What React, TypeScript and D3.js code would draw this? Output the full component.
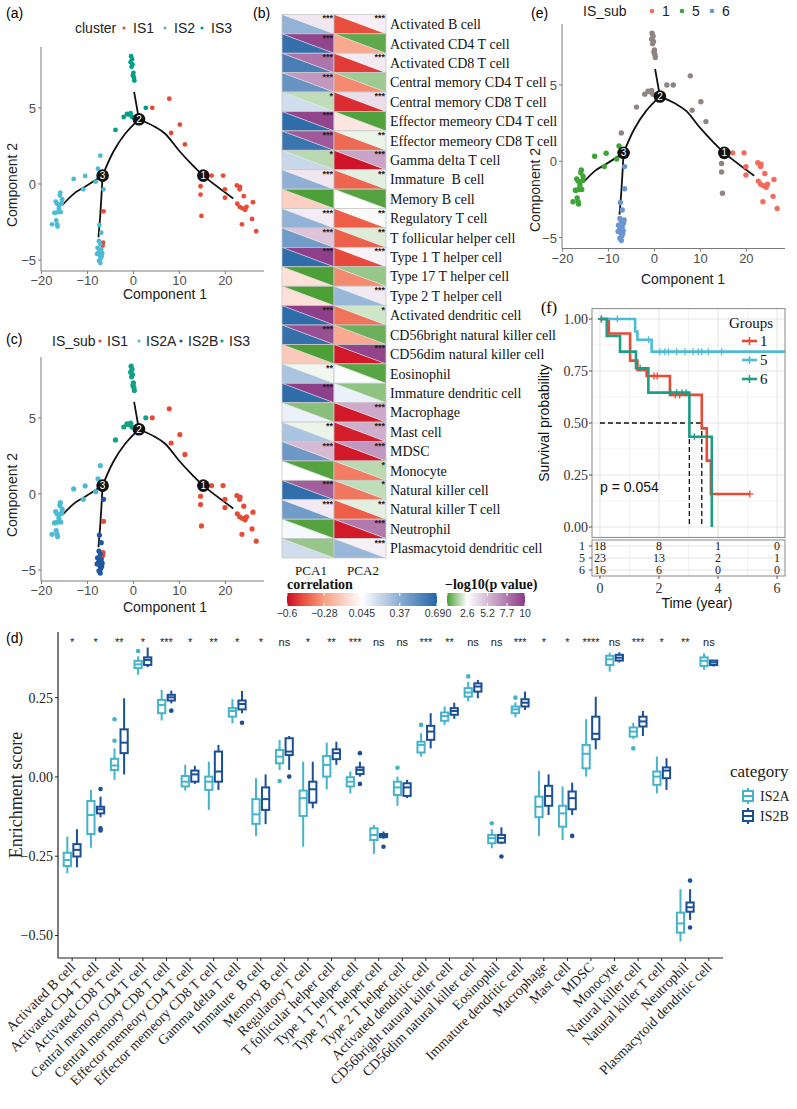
import React from "react";
import * as d3 from "d3";

const SANS = "'Liberation Sans', Arial, sans-serif";
const SERIF = "'Liberation Serif', 'Times New Roman', serif";

// ---------- trajectory (a), (c), (e) ----------
// [Component 1, Component 2]
const branchTop = [[-0.5, 8.4], [-0.3, 8.2], [-0.6, 8.0], [-0.2, 7.85], [-0.4, 7.7], [0.0, 7.3], [-0.1, 7.15], [0.1, 7.0], [0.2, 6.8]];
const nearNode2 = [[-2.1, 4.4], [-1.4, 4.6], [-0.6, 4.65], [-0.3, 4.4], [-1.0, 4.55], [2.7, 5.0], [-3.9, 3.55]];
const is1Centre = [[4.1, 5.0], [7.8, 5.6], [10.1, 3.9], [8.2, 3.35], [11.2, 2.6]];
const is1NearNode1 = [[14.8, 0.55], [14.6, -0.15], [14.6, -0.7], [14.8, -2.1]];
const is1Right = [[17.0, 0.55], [19.5, 0.55], [19.9, -0.35], [19.9, -0.9], [22.5, -0.1], [23.2, -0.2], [23.1, -0.35], [24.0, -0.8], [26.0, -1.2], [22.6, -1.3], [23.1, -1.5], [23.7, -1.6], [24.3, -1.7], [24.6, -1.5], [25.8, -2.3], [23.6, -2.65], [26.7, -3.1]];
const is1Bottom = [[-6.5, -1.8], [-6.6, -3.85], [-6.7, -4.05]];
const is2Left = [[-15.9, -0.57], [-16.0, -0.75], [-16.9, -1.16], [-16.6, -1.3], [-15.5, -1.0], [-15.6, -1.25], [-16.2, -1.6], [-17.0, -1.9], [-16.4, -1.85], [-15.8, -1.85], [-16.8, -2.4], [-16.6, -2.65], [-16.5, -2.8], [-17.7, -2.65], [-16.2, -1.4], [-17.2, -1.9]];
const is2Mid = [[-13.0, 0.33], [-10.5, 0.53], [-10.9, -0.35], [-8.2, 0.15], [-7.7, 1.0]];
const is2Upper = [[-7.2, 1.86]];
const is2Bottom = [[-6.5, -0.35], [-7.4, -2.7], [-7.0, -3.2], [-7.5, -3.75], [-7.2, -3.95], [-7.8, -4.2], [-7.0, -4.3], [-7.6, -4.5], [-6.8, -4.55], [-7.3, -4.7], [-7.9, -4.6], [-7.1, -4.9], [-7.5, -5.05], [-7.2, -5.2], [-6.9, -4.75]];

const pointSets = [
  { pts: branchTop, cluster: "IS3", sub: "IS3", grp: "other" },
  { pts: nearNode2, cluster: "IS3", sub: "IS3", grp: "other" },
  { pts: is1Centre, cluster: "IS1", sub: "IS1", grp: "other" },
  { pts: is1NearNode1, cluster: "IS1", sub: "IS1", grp: "other" },
  { pts: is1Right, cluster: "IS1", sub: "IS1", grp: "1" },
  { pts: is1Bottom, cluster: "IS1", sub: "IS1", grp: "6" },
  { pts: is2Left, cluster: "IS2", sub: "IS2A", grp: "5" },
  { pts: is2Mid, cluster: "IS2", sub: "IS2A", grp: "5" },
  { pts: is2Upper, cluster: "IS2", sub: "IS2A", grp: "other" },
  { pts: is2Bottom, cluster: "IS2", sub: "IS2B", grp: "6" },
];

const treeBranches = [
  [[1.2, 4.25], [0.15, 6.05]],
  [[1.2, 4.25], [4.7, 3.75], [6.9, 3.3], [9.9, 2.2], [12.8, 1.25], [15.2, 0.55], [21.7, -0.95]],
  [[1.2, 4.25], [-1.8, 3.3], [-4.4, 2.1], [-6.7, 0.55]],
  [[-6.7, 0.55], [-10.6, -0.2], [-12.8, -0.6], [-15.5, -1.4]],
  [[-6.7, 0.55], [-7.2, -2.0], [-7.6, -3.5]],
];
const treeNodes = [
  { id: "1", x: 15.2, y: 0.55 },
  { id: "2", x: 1.2, y: 4.25 },
  { id: "3", x: -6.7, y: 0.55 },
];

const clusterKeys = ["IS1", "IS2", "IS3"];
const subKeys = ["IS1", "IS2A", "IS2B", "IS3"];
const groupKeys = ["1", "5", "6"];
const clusterColor: Record<string, string> = { IS1: "#E64B35", IS2: "#4DBBD5", IS3: "#00A087" };
const subColor: Record<string, string> = { IS1: "#E64B35", IS2A: "#4DBBD5", IS2B: "#1F56A0", IS3: "#13A085" };
const groupColor: Record<string, string> = { "1": "#F26B5C", "5": "#3DA535", "6": "#6B96D0", other: "#8E8481" };

// ---------- heatmap (b) ----------
const cellTypes = ["Activated B cell", "Activated CD4 T cell", "Activated CD8 T cell", "Central memory CD4 T cell", "Central memory CD8 T cell", "Effector memeory CD4 T cell", "Effector memeory CD8 T cell", "Gamma delta T cell", "Immature  B cell", "Memory B cell", "Regulatory T cell", "T follicular helper cell", "Type 1 T helper cell", "Type 17 T helper cell", "Type 2 T helper cell", "Activated dendritic cell", "CD56bright natural killer cell", "CD56dim natural killer cell", "Eosinophil", "Immature dendritic cell", "Macrophage", "Mast cell", "MDSC", "Monocyte", "Natural killer cell", "Natural killer T cell", "Neutrophil", "Plasmacytoid dendritic cell"];
const corrPCA1 = [0.35, 0.64, 0.58, 0.48, 0.18, 0.66, 0.62, 0.2, 0.36, -0.12, 0.35, 0.45, 0.66, -0.06, -0.06, 0.66, 0.64, -0.14, 0.28, 0.66, 0.1, 0.28, 0.46, 0.045, 0.65, 0.45, 0.07, 0.18];
const logpPCA1 = [3.5, 9.6, 7.8, 6.5, 1.7, 9.6, 8.8, 1.6, 3.5, 0.05, 3.3, 4.8, 9.8, 0.05, 0.05, 9.8, 9.2, 0.05, 2.4, 9.8, 0.9, 2.3, 5.2, 0.15, 8.6, 3.4, 0.15, 1.1];
const corrPCA2 = [-0.46, -0.25, -0.5, -0.33, -0.53, -0.04, -0.4, -0.58, -0.41, 0.045, -0.43, -0.42, -0.47, -0.33, 0.33, -0.38, -0.25, -0.57, 0.055, 0.1, -0.57, -0.56, -0.57, -0.36, -0.37, -0.43, -0.57, 0.33];
const logpPCA2 = [3.2, 0.3, 3.4, 1.2, 3.8, 0.1, 2.3, 6.0, 2.2, 0.15, 2.5, 2.1, 3.1, 1.1, 3.4, 1.9, 0.5, 9.6, 0.2, 1.0, 5.8, 5.6, 6.5, 1.6, 1.7, 2.2, 7.6, 3.2];
const pcs = ["PCA1", "PCA2"];
const corrTicks = [-0.6, -0.28, 0.045, 0.37, 0.69];
const logpTicks = [0, 2.6, 5.2, 7.7, 10];

// ---------- survival (f) ----------
const surv1 = [[0, 1], [0.3, 0.93], [1.02, 0.8], [1.27, 0.755], [1.58, 0.726], [2.37, 0.635], [3.45, 0.474], [3.62, 0.319], [3.76, 0.159], [5.08, 0.159]];
const surv5 = [[0, 1], [1.19, 0.94], [1.27, 0.9], [1.75, 0.843], [6.27, 0.843]];
const surv6 = [[0, 1], [0.23, 0.918], [0.68, 0.843], [1.22, 0.763], [1.64, 0.646], [3.03, 0.434], [3.79, 0]];
const cens1 = [[0.05, 1], [1.83, 0.726], [1.94, 0.726], [2.55, 0.635], [2.7, 0.635], [5.08, 0.159]];
const cens5 = [[0.59, 1], [1.65, 0.9], [2.03, 0.843], [2.2, 0.843], [2.32, 0.843], [2.6, 0.843], [2.88, 0.843], [3.16, 0.843], [3.33, 0.843], [3.45, 0.843], [3.67, 0.843], [4.12, 0.843]];
const cens6 = [[0.05, 1], [1.36, 0.763], [2.4, 0.646], [2.6, 0.646], [2.78, 0.646], [2.92, 0.646], [3.2, 0.434]];
const medianTimes = [3.03, 3.45];
const riskTimes = [0, 2, 4, 6];
const risk1 = [18, 8, 1, 0];
const risk5 = [23, 13, 2, 1];
const risk6 = [16, 6, 0, 0];
const survColor: Record<string, string> = { "1": "#E64B35", "5": "#4DBBD5", "6": "#1E9C86" };

// ---------- boxplot (d) ----------
// [lower whisker, q1, median, q3, upper whisker]
const boxIS2A = [
  [-0.304, -0.281, -0.262, -0.239, -0.188], [-0.223, -0.18, -0.12, -0.076, -0.041], [-0.009, 0.022, 0.036, 0.057, 0.09], [0.322, 0.343, 0.355, 0.366, 0.38],
  [0.178, 0.201, 0.227, 0.243, 0.274], [-0.043, -0.03, -0.015, 0.003, 0.038], [-0.104, -0.041, -0.015, 0.001, 0.048], [0.169, 0.19, 0.208, 0.217, 0.245],
  [-0.186, -0.148, -0.118, -0.07, -0.004], [0.022, 0.043, 0.064, 0.085, 0.117], [-0.22, -0.123, -0.067, -0.043, 0.048], [-0.039, 0.001, 0.038, 0.066, 0.108],
  [-0.052, -0.03, -0.015, -0.001, 0.017], [-0.243, -0.199, -0.183, -0.162, -0.151], [-0.091, -0.057, -0.033, -0.015, 0.001], [0.064, 0.077, 0.101, 0.111, 0.138],
  [0.164, 0.177, 0.192, 0.203, 0.222], [0.238, 0.253, 0.266, 0.28, 0.3], [-0.225, -0.209, -0.193, -0.183, -0.165], [0.188, 0.201, 0.213, 0.222, 0.235],
  [-0.186, -0.127, -0.094, -0.062, 0.019], [-0.199, -0.157, -0.115, -0.091, -0.03], [0.001, 0.027, 0.073, 0.101, 0.182], [0.332, 0.353, 0.371, 0.382, 0.392],
  [0.12, 0.127, 0.143, 0.156, 0.171], [-0.052, -0.025, 0.001, 0.017, 0.064], [-0.519, -0.491, -0.462, -0.428, -0.354], [0.338, 0.35, 0.366, 0.377, 0.39],
];
const boxIS2B = [
  [-0.285, -0.251, -0.23, -0.212, -0.165], [-0.127, -0.115, -0.102, -0.094, -0.062], [0.008, 0.075, 0.108, 0.15, 0.248], [0.346, 0.353, 0.369, 0.377, 0.408],
  [0.232, 0.241, 0.251, 0.259, 0.272], [-0.022, -0.015, 0.008, 0.02, 0.035], [-0.041, -0.015, 0.017, 0.08, 0.101], [0.201, 0.213, 0.23, 0.241, 0.271],
  [-0.149, -0.104, -0.07, -0.033, 0.008], [0.022, 0.069, 0.08, 0.122, 0.129], [-0.099, -0.081, -0.039, -0.015, 0.048], [0.038, 0.056, 0.075, 0.087, 0.111],
  [0.001, 0.009, 0.022, 0.03, 0.048], [-0.195, -0.19, -0.186, -0.18, -0.172], [-0.067, -0.06, -0.033, -0.02, -0.009], [0.09, 0.117, 0.143, 0.161, 0.201],
  [0.183, 0.196, 0.208, 0.217, 0.234], [0.248, 0.269, 0.285, 0.295, 0.306], [-0.212, -0.207, -0.193, -0.183, -0.159], [0.211, 0.222, 0.234, 0.245, 0.269],
  [-0.12, -0.091, -0.06, -0.028, 0.008], [-0.12, -0.102, -0.067, -0.046, -0.018], [0.087, 0.119, 0.136, 0.19, 0.253], [0.361, 0.367, 0.376, 0.385, 0.393],
  [0.129, 0.159, 0.175, 0.19, 0.208], [-0.041, -0.004, 0.02, 0.03, 0.059], [-0.451, -0.425, -0.411, -0.396, -0.354], [0.348, 0.353, 0.361, 0.367, 0.369],
];
const outIS2A = [[], [], [0.182, 0.114], [0.397], [], [], [], [], [], [-0.013], [], [], [], [], [0.029], [0.164], [], [0.317], [-0.146], [0.25], [], [], [], [], [0.09], [], [], []];
const outIS2B = [[], [-0.038, -0.162, -0.169], [], [], [0.209], [], [], [0.171], [], [0.001], [], [], [0.075, -0.022], [-0.22], [], [], [], [], [-0.251], [], [], [-0.186], [], [], [], [], [-0.327, -0.475], []];
const sigLabels = ["*", "*", "**", "*", "***", "*", "**", "*", "*", "ns", "*", "**", "***", "ns", "ns", "***", "**", "ns", "ns", "***", "*", "*", "****", "ns", "***", "*", "**", "ns"];
const categories = ["IS2A", "IS2B"];
const catColor: Record<string, string> = { IS2A: "#45B3C9", IS2B: "#1B4F96" };
const enrichTicks = [0.25, 0, -0.25, -0.5];

const fmtTick = (v: number) => (v < 0 ? "\u2212" + Math.abs(v) : String(v));

function TrajPanel(p: any) {
  const x = d3.scaleLinear().domain([-20.1, 28.4]).range(p.xr);
  const y = d3.scaleLinear().domain([-5.72, 9.0]).range(p.yr);
  const line = d3.line<number[]>().x((d) => x(d[0])).y((d) => y(d[1])).curve(d3.curveCatmullRom.alpha(0.5));
  const [left, right] = p.xr;
  const [bottom, top] = p.yr;
  return (
    <g>
      <text x={p.labelX} y={p.labelY} fontFamily={SANS} fontSize={14}>{p.label}</text>
      <text x={p.legend.titleX} y={p.legend.y} fontFamily={SANS} fontSize={14} fill="#222">{p.legend.title}</text>
      {p.legend.keys.map((k: string, i: number) => (
        <g key={k}>
          <circle cx={p.legend.dotX[i]} cy={p.legend.y - 5} r={p.legend.r} fill={p.colors[k]} />
          <text x={p.legend.dotX[i] + p.legend.gap} y={p.legend.y} fontFamily={SANS} fontSize={14} fill="#222">{k}</text>
        </g>
      ))}
      <line x1={left} x2={left} y1={top} y2={bottom} stroke="#7a7a7a" strokeWidth={1} />
      <line x1={left} x2={right} y1={bottom} y2={bottom} stroke="#7a7a7a" strokeWidth={1} />
      {[-5, 0, 5].map((t) => (
        <g key={t}>
          <line x1={left - 3} x2={left} y1={y(t)} y2={y(t)} stroke="#7a7a7a" />
          <text x={left - 5} y={y(t) + 5} textAnchor="end" fontFamily={SANS} fontSize={13} fill="#4d4d4d">{fmtTick(t)}</text>
        </g>
      ))}
      {[-20, -10, 0, 10, 20].map((t) => (
        <g key={t}>
          <line x1={x(t)} x2={x(t)} y1={bottom} y2={bottom + 3} stroke="#7a7a7a" />
          <text x={x(t)} y={bottom + 14} textAnchor="middle" fontFamily={SANS} fontSize={13} fill="#4d4d4d">{fmtTick(t)}</text>
        </g>
      ))}
      <text x={p.xTitle[0]} y={p.xTitle[1]} textAnchor="middle" fontFamily={SANS} fontSize={14} fill="#222">Component 1</text>
      <text transform={`translate(${p.yTitle[0]},${p.yTitle[1]}) rotate(-90)`} textAnchor="middle" fontFamily={SANS} fontSize={14} fill="#222">Component 2</text>
      {treeBranches.map((b, i) => (
        <path key={i} d={line(b) || ""} fill="none" stroke="#111" strokeWidth={1.8} />
      ))}
      {pointSets.map((s, i) =>
        s.pts.map((pt, j) => (
          <circle key={i + "-" + j} cx={x(pt[0])} cy={y(pt[1])} r={p.r} fill={p.colors[(s as any)[p.by]]} />
        ))
      )}
      {treeNodes.map((n) => (
        <g key={n.id}>
          <circle cx={x(n.x)} cy={y(n.y)} r={6.3} fill="#111" />
          <text x={x(n.x)} y={y(n.y) + 3.5} textAnchor="middle" fontFamily={SANS} fontSize={10} fill="#fff">{n.id}</text>
        </g>
      ))}
    </g>
  );
}

function HeatPanel() {
  const rows = d3.scaleBand().domain(cellTypes).range([14.4, 558]);
  const cols = d3.scaleBand().domain(pcs).range([282, 386]);
  const corrColor = d3.scaleLinear<string>().domain([-0.6, -0.45, -0.28, 0.045, 0.37, 0.69]).range(["#CC0A25", "#EB5440", "#F8A084", "#FFFFFF", "#8BADD3", "#2565A6"]).clamp(true);
  const pColor = d3.scaleLinear<string>().domain([0, 2.6, 10]).range(["#4A9D34", "#FFFFFF", "#8B3A86"]).clamp(true);
  const stars = (v: number) => (v > 3 ? "***" : v > 2 ? "**" : v > 1.3 ? "*" : "");
  const cx = d3.scaleLinear().domain([-0.6, 0.69]).range([287, 437]);
  const px = d3.scaleLinear().domain([0, 10]).range([447, 525]);
  const h = rows.bandwidth();
  const w = cols.bandwidth();
  return (
    <g>
      <text x={253} y={18} fontFamily={SANS} fontSize={14}>(b)</text>
      {cellTypes.map((c, i) => {
        const y0 = rows(c)!;
        const vals = [[corrPCA1[i], logpPCA1[i]], [corrPCA2[i], logpPCA2[i]]];
        return (
          <g key={c}>
            {pcs.map((pc, j) => {
              const x0 = cols(pc)!;
              return (
                <g key={pc}>
                  <path d={`M${x0},${y0}L${x0},${y0 + h}L${x0 + w},${y0 + h}Z`} fill={corrColor(vals[j][0])} />
                  <path d={`M${x0},${y0}L${x0 + w},${y0}L${x0 + w},${y0 + h}Z`} fill={pColor(vals[j][1])} />
                  <line x1={x0} y1={y0} x2={x0 + w} y2={y0 + h} stroke="#e8e8e8" strokeWidth={0.6} />
                  <rect x={x0} y={y0} width={w} height={h} fill="none" stroke="#c9c9c9" strokeWidth={0.8} />
                  <text x={x0 + w - 1} y={y0 + 7} textAnchor="end" fontFamily={SANS} fontSize={9} fontWeight="bold" fill="#222">{stars(vals[j][1])}</text>
                </g>
              );
            })}
            <text x={390} y={y0 + h / 2 + 5} fontFamily={SERIF} fontSize={14} fill="#111" style={{ whiteSpace: "pre" }}>{c}</text>
          </g>
        );
      })}
      {pcs.map((pc) => (
        <text key={pc} x={cols(pc)! + w / 2 + 3} y={575} textAnchor="middle" fontFamily={SERIF} fontSize={13} fill="#111">{pc}</text>
      ))}
      <defs>
        <linearGradient id="gcorr" x1="0" x2="1" y1="0" y2="0">
          {d3.range(0, 1.0001, 0.05).map((t) => (
            <stop key={t} offset={t} stopColor={corrColor(cx.invert(287 + t * 150))} />
          ))}
        </linearGradient>
        <linearGradient id="gp" x1="0" x2="1" y1="0" y2="0">
          {d3.range(0, 1.0001, 0.05).map((t) => (
            <stop key={t} offset={t} stopColor={pColor(t * 10)} />
          ))}
        </linearGradient>
      </defs>
      <text x={287} y={589} fontFamily={SERIF} fontSize={14} fontWeight="bold" fill="#111">correlation</text>
      <text x={445} y={589} fontFamily={SERIF} fontSize={14} fontWeight="bold" fill="#111">{"\u2212log10(p value)"}</text>
      <rect x={287} y={593} width={150} height={13} fill="url(#gcorr)" />
      <rect x={447} y={593} width={78} height={13} fill="url(#gp)" />
      {corrTicks.map((t) => (
        <g key={t}>
          <line x1={cx(t)} x2={cx(t)} y1={593} y2={596} stroke="#fff" />
          <line x1={cx(t)} x2={cx(t)} y1={603} y2={606} stroke="#fff" />
          <text x={cx(t) - (t === 0.69 ? 2 : 0)} y={617} textAnchor="middle" fontFamily={SANS} fontSize={10.5} fill="#333">{fmtTick(t)}</text>
        </g>
      ))}
      {logpTicks.map((t) => (
        <g key={t}>
          <line x1={px(t)} x2={px(t)} y1={593} y2={596} stroke="#fff" />
          <line x1={px(t)} x2={px(t)} y1={603} y2={606} stroke="#fff" />
          <text x={px(t) + (t === 0 ? 1.5 : 0)} y={617} textAnchor="middle" fontFamily={SANS} fontSize={10.5} fill="#333">{t}</text>
        </g>
      ))}
    </g>
  );
}

function SurvPanel() {
  const x = d3.scaleLinear().domain([-0.27, 6.27]).range([592, 785]);
  const y = d3.scaleLinear().domain([-0.05, 1.05]).range([537.4, 308.6]);
  const step = d3.line<number[]>().x((d) => x(d[0])).y((d) => y(d[1])).curve(d3.curveStepAfter);
  const curves = [
    { g: "1", s: surv1, c: cens1 },
    { g: "5", s: surv5, c: cens5 },
    { g: "6", s: surv6, c: cens6 },
  ];
  const risks = [risk1, risk5, risk6];
  const tRows = d3.scaleBand().domain(["1", "5", "6"]).range([540, 576]);
  const [top, bottom] = [308.6, 537.4];
  return (
    <g>
      <text x={541} y={313} fontFamily={SERIF} fontSize={16}>(f)</text>
      <rect x={592} y={top} width={193} height={bottom - top} fill="#fff" />
      {[1, 3, 5].map((t) => <line key={"m" + t} x1={x(t)} x2={x(t)} y1={top} y2={bottom} stroke="#f2f2f2" />)}
      {[0.125, 0.375, 0.625, 0.875].map((t) => <line key={"n" + t} y1={y(t)} y2={y(t)} x1={592} x2={785} stroke="#f2f2f2" />)}
      {riskTimes.map((t) => <line key={"v" + t} x1={x(t)} x2={x(t)} y1={top} y2={bottom} stroke="#e3e3e3" />)}
      {[0, 0.25, 0.5, 0.75, 1].map((t) => <line key={"h" + t} y1={y(t)} y2={y(t)} x1={592} x2={785} stroke="#e3e3e3" />)}
      <path d={`M${x(0)},${y(0.5)}H${x(medianTimes[1])}`} stroke="#111" strokeWidth={1.3} strokeDasharray="5,3" fill="none" />
      {medianTimes.map((t) => (
        <path key={t} d={`M${x(t)},${y(0.5)}V${y(0)}`} stroke="#111" strokeWidth={1.3} strokeDasharray="5,3" fill="none" />
      ))}
      {curves.map((c) => (
        <g key={c.g}>
          <path d={step(c.s) || ""} fill="none" stroke={survColor[c.g]} strokeWidth={2.6} />
          {c.c.map((pt, i) => (
            <path key={i} d={`M${x(pt[0]) - 3.5},${y(pt[1])}h7M${x(pt[0])},${y(pt[1]) - 3.5}v7`} stroke={survColor[c.g]} strokeWidth={1.3} />
          ))}
        </g>
      ))}
      <rect x={592} y={top} width={193} height={bottom - top} fill="none" stroke="#888" />
      {[0, 0.25, 0.5, 0.75, 1].map((t) => (
        <g key={t}>
          <line x1={589} x2={592} y1={y(t)} y2={y(t)} stroke="#555" />
          <text x={588} y={y(t) + 5} textAnchor="end" fontFamily={SERIF} fontSize={14} fill="#333">{t.toFixed(2)}</text>
        </g>
      ))}
      <text transform={`translate(549,${(top + bottom) / 2}) rotate(-90)`} textAnchor="middle" fontFamily={SANS} fontSize={14} fill="#111">Survival probability</text>
      <text x={600} y={492} fontFamily={SANS} fontSize={14} fill="#111">p = 0.054</text>
      <text x={729} y={328} fontFamily={SERIF} fontSize={15} fill="#111">Groups</text>
      {groupKeys.map((g, i) => (
        <g key={g}>
          <line x1={742} x2={757} y1={341 + i * 19} y2={341 + i * 19} stroke={survColor[g]} strokeWidth={2.6} />
          <path d={`M745.5,${341 + i * 19}h8M749.5,${337 + i * 19}v8`} stroke={survColor[g]} strokeWidth={1.5} />
          <text x={760} y={346 + i * 19} fontFamily={SERIF} fontSize={15} fill="#111">{g}</text>
        </g>
      ))}
      {/* risk table */}
      <rect x={592} y={540} width={193} height={36} fill="#fff" />
      {[1, 3, 5].map((t) => <line key={"rm" + t} x1={x(t)} x2={x(t)} y1={540} y2={576} stroke="#f2f2f2" />)}
      {riskTimes.map((t) => <line key={"rv" + t} x1={x(t)} x2={x(t)} y1={540} y2={576} stroke="#e3e3e3" />)}
      {groupKeys.map((g) => <line key={"rh" + g} x1={592} x2={785} y1={tRows(g)! + tRows.bandwidth() / 2} y2={tRows(g)! + tRows.bandwidth() / 2} stroke="#e3e3e3" />)}
      <rect x={592} y={540} width={193} height={36} fill="none" stroke="#888" />
      {groupKeys.map((g, i) => (
        <g key={g}>
          <text x={585} y={tRows(g)! + tRows.bandwidth() / 2 + 4} textAnchor="end" fontFamily={SERIF} fontSize={12} fill="#222">{g}</text>
          <line x1={589} x2={592} y1={tRows(g)! + tRows.bandwidth() / 2} y2={tRows(g)! + tRows.bandwidth() / 2} stroke="#555" />
          {riskTimes.map((t, j) => (
            <text key={t} x={x(t)} y={tRows(g)! + tRows.bandwidth() / 2 + 4} textAnchor="middle" fontFamily={SERIF} fontSize={12} fill="#222">{risks[i][j]}</text>
          ))}
        </g>
      ))}
      {riskTimes.map((t) => (
        <g key={t}>
          <line x1={x(t)} x2={x(t)} y1={576} y2={579} stroke="#555" />
          <text x={x(t)} y={593} textAnchor="middle" fontFamily={SERIF} fontSize={14} fill="#333">{t}</text>
        </g>
      ))}
      <text x={697} y={608} textAnchor="middle" fontFamily={SANS} fontSize={14} fill="#111">Time (year)</text>
    </g>
  );
}

function BoxPanel() {
  const x = d3.scalePoint().domain(cellTypes).range([58, 723]).padding(0.6);
  const y = d3.scaleLinear().domain([-0.571, 0.457]).range([958, 632]);
  const dodge = d3.scaleBand().domain(categories).range([-9.8, 9.8]).padding(0.04);
  const bw = dodge.bandwidth();
  const series = [
    { k: "IS2A", box: boxIS2A, out: outIS2A },
    { k: "IS2B", box: boxIS2B, out: outIS2B },
  ];
  return (
    <g>
      <text x={6} y={643} fontFamily={SANS} fontSize={14}>(d)</text>
      {cellTypes.map((c, i) => (
        <text key={c} x={x(c)} y={646} textAnchor="middle" fontFamily={SANS} fontSize={11} fill="#222">{sigLabels[i]}</text>
      ))}
      {series.map((s) =>
        cellTypes.map((c, i) => {
          const [lo, q1, md, q3, hi] = s.box[i];
          const x0 = x(c)! + dodge(s.k)!;
          const xm = x0 + bw / 2;
          const col = catColor[s.k];
          return (
            <g key={s.k + c}>
              <line x1={xm} x2={xm} y1={y(hi)} y2={y(q3)} stroke={col} strokeWidth={2} />
              <line x1={xm} x2={xm} y1={y(q1)} y2={y(lo)} stroke={col} strokeWidth={2} />
              <rect x={x0 + 1} y={y(q3)} width={bw - 2} height={Math.max(0.5, y(q1) - y(q3))} fill="#fff" stroke={col} strokeWidth={2} />
              <line x1={x0 + 1} x2={x0 + bw - 1} y1={y(md)} y2={y(md)} stroke={col} strokeWidth={2} />
              {s.out[i].map((o, j) => (
                <circle key={j} cx={xm} cy={y(o)} r={2.3} fill={col} />
              ))}
            </g>
          );
        })
      )}
      <line x1={58} x2={58} y1={632} y2={958} stroke="#222" strokeWidth={1.2} />
      <line x1={58} x2={723} y1={958} y2={958} stroke="#222" strokeWidth={1.2} />
      {enrichTicks.map((t) => (
        <g key={t}>
          <line x1={55} x2={58} y1={y(t)} y2={y(t)} stroke="#222" />
          <text x={53} y={y(t) + 5} textAnchor="end" fontFamily={SERIF} fontSize={14} fill="#222">{(t < 0 ? "\u2212" : "") + Math.abs(t).toFixed(2)}</text>
        </g>
      ))}
      {cellTypes.map((c) => (
        <g key={c}>
          <line x1={x(c)} x2={x(c)} y1={958} y2={961} stroke="#222" />
          <text transform={`translate(${x(c)! + 4},${968}) rotate(-45)`} textAnchor="end" fontFamily={SERIF} fontSize={14} fill="#222" style={{ whiteSpace: "pre" }}>{c}</text>
        </g>
      ))}
      <text transform="translate(22,795) rotate(-90)" textAnchor="middle" fontFamily={SERIF} fontSize={18} fill="#222">Enrichment score</text>
      <text x={730} y={777} fontFamily={SERIF} fontSize={17} fill="#222">category</text>
      {categories.map((k, i) => {
        const cy = 796 + i * 20;
        const col = catColor[k];
        return (
          <g key={k}>
            <line x1={748} x2={748} y1={cy - 8} y2={cy + 8} stroke={col} strokeWidth={2} />
            <rect x={743} y={cy - 5} width={10} height={10} fill="#fff" stroke={col} strokeWidth={2} />
            <line x1={743} x2={753} y1={cy} y2={cy} stroke={col} strokeWidth={2} />
            <text x={760} y={cy + 5} fontFamily={SERIF} fontSize={14} fill="#222">{k}</text>
          </g>
        );
      })}
    </g>
  );
}

export default function App() {
  return (
    <svg width={797} height={1109} style={{ position: "absolute", left: 0, top: 0, background: "#fff" }}>
      <rect width={797} height={1109} fill="#fff" />
      <TrajPanel
        xr={[41, 264]} yr={[271, 47]} by="cluster" colors={clusterColor} r={2.4}
        label="(a)" labelX={6} labelY={18}
        legend={{ title: "cluster", titleX: 75, y: 33, keys: clusterKeys, dotX: [124, 165, 202], gap: 9, r: 1.6 }}
        xTitle={[165, 299]} yTitle={[17, 185]}
      />
      <TrajPanel
        xr={[41, 264]} yr={[581, 357]} by="sub" colors={subColor} r={2.6}
        label="(c)" labelX={6} labelY={344}
        legend={{ title: "IS_sub", titleX: 52, y: 346, keys: subKeys, dotX: [100, 139, 181, 222], gap: 7, r: 1.6 }}
        xTitle={[165, 612]} yTitle={[17, 495]}
      />
      <HeatPanel />
      <TrajPanel
        xr={[562, 785]} yr={[248.5, 24]} by="grp" colors={groupColor} r={2.7}
        label="(e)" labelX={531} labelY={18}
        legend={{ title: "IS_sub", titleX: 583, y: 16, keys: groupKeys, dotX: [652, 682, 712], gap: 10, r: 2.3 }}
        xTitle={[683, 284]} yTitle={[540, 190]}
      />
      <SurvPanel />
      <BoxPanel />
    </svg>
  );
}
